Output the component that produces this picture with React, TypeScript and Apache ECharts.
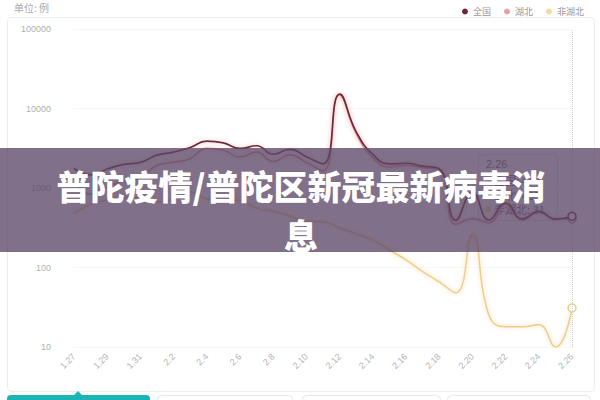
import React, { useEffect, useRef } from 'react';
import * as echarts from 'echarts';

const dates = ['1.27', '1.28', '1.29', '1.30', '1.31', '2.1', '2.2', '2.3', '2.4', '2.5', '2.6', '2.7', '2.8', '2.9', '2.10', '2.11', '2.12', '2.13', '2.14', '2.15', '2.16', '2.17', '2.18', '2.19', '2.20', '2.21', '2.22', '2.23', '2.24', '2.25', '2.26'];
const national = [1771, 1459, 1737, 1982, 2102, 2590, 2829, 3235, 3887, 3694, 3143, 3399, 2656, 3062, 2478, 2015, 15152, 5090, 2641, 2009, 2048, 1886, 1749, 394, 889, 397, 648, 409, 508, 406, 440];
const hubei = [1291, 840, 1032, 1220, 1347, 1921, 2103, 2345, 3156, 2987, 2447, 2841, 2147, 2618, 2097, 1638, 14840, 4823, 2420, 1843, 1933, 1807, 1693, 349, 411, 366, 630, 398, 499, 401, 409];
const nonHubei = [480, 619, 705, 762, 755, 669, 726, 890, 731, 707, 696, 558, 509, 444, 381, 377, 312, 267, 221, 166, 125, 89, 66, 48, 258, 25, 18, 18, 19, 10, 31];
const seriesNames = ['全国', '湖北', '非湖北'];
const yMin = 10;
const yMax = 100000;
const unitLabel = '单位: 例';
const bannerTitle = '普陀疫情/普陀区新冠最新病毒消息';
const tooltipIndex = dates.length - 1;

const COLORS = ['#6e2638', '#d98a8f', '#f1cd8c'];
const LEGEND_COLORS = ['#6e2638', '#e3a3a6', '#f3dc9c'];

function withEndMarker(values: number[], color: string) {
  return values.map((v, i) =>
    i === values.length - 1
      ? { value: v, symbol: 'circle', symbolSize: 8, itemStyle: { color: '#fff', borderColor: color, borderWidth: 1.5 } }
      : v
  );
}

export default function App() {
  const ref = useRef<HTMLDivElement>(null);

  useEffect(() => {
    document.body.style.margin = '0';
    if (!ref.current) return;
    const chart = echarts.init(ref.current, undefined, { renderer: 'svg' });
    const allSeries = [national, hubei, nonHubei];
    const cjk = '"Noto Sans CJK SC", sans-serif';

    const tipRows = seriesNames.map((name, i) => ({
      name,
      value: allSeries[i][tooltipIndex],
      color: LEGEND_COLORS[i],
    }));

    const bannerText = bannerTitle.slice(0, -1) + '\n' + bannerTitle.slice(-1);

    const option: any = {
      animation: false,
      backgroundColor: '#fff',
      color: COLORS,
      legend: {
        data: seriesNames.map((n, i) => ({ name: n, itemStyle: { color: LEGEND_COLORS[i] } })),
        icon: 'circle',
        itemWidth: 6,
        itemHeight: 6,
        itemGap: 13,
        right: 11,
        top: 2,
        textStyle: { color: '#999', fontSize: 9, fontFamily: cjk },
      },
      grid: { left: 74, right: 28, top: 29, bottom: 53 },
      xAxis: {
        type: 'category',
        boundaryGap: false,
        data: dates,
        axisLine: { show: false },
        axisTick: { show: false },
        axisLabel: { interval: 1, rotate: 45, color: '#b5b5b5', fontSize: 9, margin: 8 },
        splitLine: { show: false },
      },
      yAxis: {
        type: 'log',
        logBase: 10,
        min: yMin,
        max: yMax,
        axisLine: { show: false },
        axisTick: { show: false },
        axisLabel: { color: '#b0b0b0', fontSize: 9, margin: 23, formatter: (v: number) => String(v) },
        splitLine: { lineStyle: { color: '#f7f7f7' } },
      },
      series: allSeries.map((vals, i) => ({
        name: seriesNames[i],
        type: 'line',
        smooth: true,
        symbol: 'none',
        showAllSymbol: true,
        z: 5 - i,
        data: withEndMarker(vals, COLORS[i]),
        lineStyle: {
          color: COLORS[i],
          width: i === 0 ? 1.7 : 1.5,
          shadowColor: i === 2 ? 'rgba(241,205,140,0.8)' : 'rgba(230,150,150,0.6)',
          shadowBlur: 4,
        },
        itemStyle: { color: COLORS[i] },
        markLine:
          i === 0
            ? {
                silent: true,
                symbol: 'none',
                label: { show: false },
                lineStyle: { color: '#cfcfcf', type: 'dotted', width: 1 },
                data: [{ xAxis: dates[tooltipIndex] }],
              }
            : undefined,
      })),
      graphic: [
        {
          type: 'rect',
          silent: true,
          z: -10,
          shape: { x: 7.5, y: 17.5, width: 587, height: 374, r: 4 },
          style: { fill: 'none', stroke: '#ededed', lineWidth: 1 },
        },
        {
          type: 'text',
          left: 14,
          top: 2,
          style: { text: unitLabel, fill: '#aaa', font: '10px "Noto Sans CJK SC", sans-serif' },
        },
        { type: 'rect', silent: true, shape: { x: 7, y: 395, width: 143, height: 12, r: 4 }, style: { fill: '#1cb5b5' } },
        { type: 'polygon', silent: true, shape: { points: [[73, 396], [78, 391], [83, 396]] }, style: { fill: '#1cb5b5' } },
        { type: 'rect', silent: true, shape: { x: 157.5, y: 395.5, width: 135, height: 12, r: 4 }, style: { fill: '#fff', stroke: '#e8e8e8' } },
        { type: 'rect', silent: true, shape: { x: 302.5, y: 395.5, width: 138, height: 12, r: 4 }, style: { fill: '#fff', stroke: '#e8e8e8' } },
        { type: 'rect', silent: true, shape: { x: 447.5, y: 395.5, width: 143, height: 12, r: 4 }, style: { fill: '#fff', stroke: '#e8e8e8' } },
        {
          type: 'group',
          z: 50,
          children: [
            {
              type: 'rect',
              shape: { x: 478.5, y: 154.5, width: 79, height: 66, r: 4 },
              style: { fill: 'rgba(255,255,255,0.92)', stroke: '#e2e2e2', lineWidth: 1 },
            },
            {
              type: 'text',
              x: 486,
              y: 164,
              style: { text: dates[tooltipIndex], fill: '#666', font: '11px sans-serif', verticalAlign: 'middle' },
            },
            ...tipRows.flatMap((row, k) => [
              { type: 'circle', shape: { cx: 488, cy: 180 + k * 14.5, r: 3 }, style: { fill: row.color } },
              {
                type: 'text',
                x: 494,
                y: 180 + k * 14.5,
                style: { text: `${row.name}: ${row.value}`, fill: '#666', font: '11px "Noto Sans CJK SC", sans-serif', verticalAlign: 'middle' },
              },
            ]),
          ],
        },
        {
          type: 'rect',
          z: 100,
          silent: true,
          shape: { x: 0, y: 148, width: 600, height: 104 },
          style: { fill: 'rgba(92,72,104,0.78)' },
        },
        {
          type: 'text',
          z: 101,
          silent: true,
          x: 301,
          y: 161,
          style: {
            text: bannerText,
            fill: '#fff',
            font: '900 34px "Noto Sans CJK SC", sans-serif',
            lineHeight: 49,
            align: 'center',
            verticalAlign: 'top',
          },
        },
      ],
    };

    chart.setOption(option);
    return () => chart.dispose();
  }, []);

  return <div ref={ref} style={{ width: 600, height: 400, position: 'fixed', left: 0, top: 0, background: '#fff' }} />;
}
